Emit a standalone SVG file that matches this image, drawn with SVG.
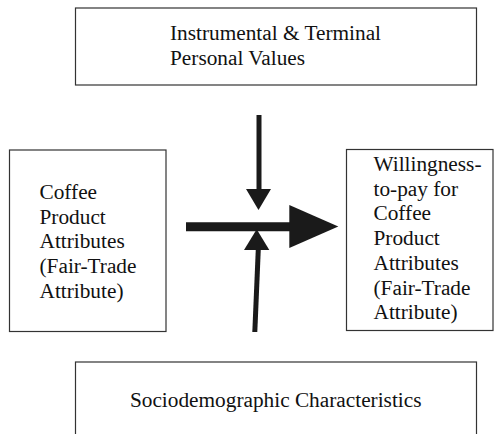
<svg xmlns="http://www.w3.org/2000/svg" width="494" height="434" viewBox="0 0 494 434">
<style>
.box{fill:#fff;stroke:#333;stroke-width:1.2}
.t{font-family:"Liberation Serif","Times New Roman",serif;font-size:21.3px;fill:#111}
.shaft{stroke:#1a1a1a;fill:none}
.head{fill:#1a1a1a}
</style>
<rect width="494" height="434" fill="#fff"/>
<g id="values">
<rect class="box" x="75.5" y="8" width="401" height="77"/>
<text class="t" x="170" y="40">Instrumental &amp; Terminal</text>
<text class="t" x="170" y="65">Personal Values</text>
</g>
<g id="attributes">
<rect class="box" x="9.5" y="150" width="156.5" height="181.5"/>
<text class="t" x="39.5" y="199">Coffee</text>
<text class="t" x="39.5" y="223.7">Product</text>
<text class="t" x="39.5" y="248.4">Attributes</text>
<text class="t" x="39.5" y="273.1">(Fair-Trade</text>
<text class="t" x="39.5" y="297.8">Attribute)</text>
</g>
<g id="wtp">
<rect class="box" x="346.5" y="149.5" width="146.5" height="181"/>
<text class="t" x="373.5" y="171">Willingness-</text>
<text class="t" x="373.5" y="195.7">to-pay for</text>
<text class="t" x="373.5" y="220.4">Coffee</text>
<text class="t" x="373.5" y="245.1">Product</text>
<text class="t" x="373.5" y="269.8">Attributes</text>
<text class="t" x="373.5" y="294.5">(Fair-Trade</text>
<text class="t" x="373.5" y="319.2">Attribute)</text>
</g>
<g id="socio">
<rect class="box" x="75.5" y="362" width="401" height="80"/>
<text class="t" x="275.7" y="407" text-anchor="middle">Sociodemographic Characteristics</text>
</g>
<g id="connectors">
<line class="shaft" x1="259" y1="115" x2="259" y2="190" stroke-width="5"/>
<polygon class="head" points="246,189 271,189 258.5,210"/>
<line class="shaft" x1="186" y1="226.7" x2="290" y2="226.7" stroke-width="9"/>
<polygon class="head" points="289.3,205 338.3,226.5 289.3,248"/>
<line class="shaft" x1="258.3" y1="249" x2="254.8" y2="332" stroke-width="5"/>
<polygon class="head" points="244,250 269.3,250 256.7,229.3"/>
</g>
</svg>
